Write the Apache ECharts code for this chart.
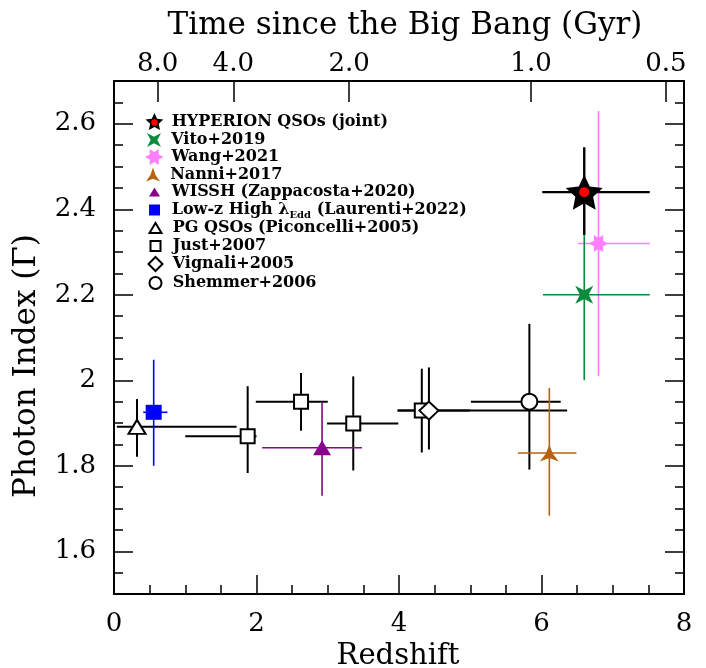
<!DOCTYPE html>
<html>
<head>
<meta charset="utf-8">
<script src="https://cdn.jsdelivr.net/npm/echarts@6/dist/echarts.min.js"></script>
<style>
  html, body { margin: 0; padding: 0; background: #fff; }
  #chart { width: 706px; height: 668px; }
</style>
</head>
<body>
<div id="chart"></div>
<script>
const FONT = 'DejaVu Serif'

// each row: [redshift, z low, z high, photon index, gamma low, gamma high]
const hyperionQSOs = [[6.60, 6.01, 7.52, 2.440, 2.340, 2.545]]
const vito2019 = [[6.60, 6.02, 7.52, 2.200, 2.000, 2.400]]
const wang2021 = [[6.80, 6.51, 7.52, 2.320, 2.010, 2.630]]
const nanni2017 = [[6.11, 5.67, 6.49, 1.830, 1.683, 1.982]]
const wissh2020 = [[2.92, 2.08, 3.48, 1.842, 1.730, 1.950]]
const lowzHighEdd = [[0.557, 0.41, 0.75, 1.925, 1.800, 2.048]]
const pgQSOs = [[0.323, 0.04, 1.72, 1.891, 1.821, 1.956]]
const just2007 = [
  [1.876, 1.00, 2.00, 1.869, 1.783, 1.986],
  [2.625, 1.99, 3.00, 1.950, 1.882, 2.017],
  [3.358, 2.99, 3.99, 1.899, 1.789, 2.009],
  [4.320, 3.98, 5.00, 1.929, 1.831, 2.027]
]
const vignali2005 = [[4.42, 3.98, 6.36, 1.929, 1.838, 2.030]]
const shemmer2006 = [[5.83, 5.01, 6.27, 1.950, 1.791, 2.132]]

// axis ticks
const timeTickZ = [0.613, 1.674, 3.30, 5.853, 7.747]
const timeTickLabels = ['8.0', '4.0', '2.0', '1.0', '0.5']

// marker shapes
const STAR5 = 'path://M50 0L64.1 30.6L97.6 34.5L72.8 57.4L79.4 90.5L50 74L20.6 90.5L27.2 57.4L2.4 34.5L35.9 30.6Z'
const STAR4 = 'path://M0 0L50 26L100 0L74 50L100 100L50 74L0 100L26 50Z'
const STAR6 = 'path://M100 50L73.8 63.8L75 93.3L50 77.5L25 93.3L26.2 63.8L0 50L26.2 36.3L25 6.7L50 22.5L75 6.7L73.8 36.3Z'
const TRIPOD = 'path://M50 0L68 54L100 100L50 80L0 100L32 54Z'

// drawn from back to front
const sets = [
  { name: 'Just+2007', data: just2007, symbol: 'rect', size: 14, fill: '#fff', stroke: '#000', err: '#000', ew: 2 },
  { name: 'PG QSOs (Piconcelli+2005)', data: pgQSOs, symbol: 'triangle', size: [17, 14], fill: '#fff', stroke: '#000', err: '#000', ew: 2 },
  { name: 'Vignali+2005', data: vignali2005, symbol: 'diamond', size: [19, 18], fill: '#fff', stroke: '#000', err: '#000', ew: 2 },
  { name: 'Shemmer+2006', data: shemmer2006, symbol: 'circle', size: 16, fill: '#fff', stroke: '#000', err: '#000', ew: 2 },
  { name: 'Low-z High λEdd (Laurenti+2022)', data: lowzHighEdd, symbol: 'rect', size: [16, 15], fill: '#0000ff', err: '#0000ff', ew: 1.6 },
  { name: 'WISSH (Zappacosta+2020)', data: wissh2020, symbol: 'triangle', size: [18, 15], fill: '#8b008b', err: '#8b008b', ew: 1.6 },
  { name: 'Nanni+2017', data: nanni2017, symbol: TRIPOD, size: [19, 17], fill: '#b8620e', err: '#b8620e', ew: 1.6 },
  { name: 'Wang+2021', data: wang2021, symbol: STAR6, size: [19, 17], fill: '#ff7fff', err: '#ff7fff', ew: 1.6 },
  { name: 'Vito+2019', data: vito2019, symbol: STAR4, size: 18, fill: '#0a8a3c', err: '#0a8a3c', ew: 1.6 },
  { name: 'HYPERION QSOs (joint)', data: hyperionQSOs, symbol: STAR5, size: [37, 35], fill: '#000', err: '#000', ew: 2.4 }
]

function errorBars(color, width) {
  return function (params, api) {
    const z = api.value(0)
    const g = api.value(3)
    const l = api.coord([api.value(1), g])
    const r = api.coord([api.value(2), g])
    const t = api.coord([z, api.value(5)])
    const b = api.coord([z, api.value(4)])
    const style = { stroke: color, lineWidth: width }
    return {
      type: 'group',
      children: [
        { type: 'line', shape: { x1: l[0], y1: l[1], x2: r[0], y2: r[1] }, style },
        { type: 'line', shape: { x1: t[0], y1: t[1], x2: b[0], y2: b[1] }, style }
      ]
    }
  }
}

const series = []
sets.forEach((s, i) => {
  series.push({
    name: s.name + ' err',
    type: 'custom',
    renderItem: errorBars(s.err, s.ew),
    encode: { x: 0, y: 3 },
    data: s.data,
    z: 2 + i * 0.01,
    silent: true
  })
})
sets.forEach((s, i) => {
  series.push({
    name: s.name,
    type: 'scatter',
    symbol: s.symbol,
    symbolSize: s.size,
    symbolKeepAspect: false,
    data: s.data.map(d => [d[0], d[3]]),
    itemStyle: {
      color: s.fill,
      borderColor: s.stroke || s.fill,
      borderWidth: s.stroke ? 2 : 0,
      opacity: 1
    },
    z: 4 + i * 0.01
  })
})
// red centre of the HYPERION star
series.push({
  name: 'HYPERION centre',
  type: 'scatter',
  symbol: 'circle',
  symbolSize: 10,
  data: hyperionQSOs.map(d => [d[0], d[3]]),
  itemStyle: { color: '#ff0000', opacity: 1 },
  z: 6
})

// legend rows, top to bottom
const legendRows = [
  { name: 'HYPERION QSOs (joint)', w: 18, h: 17 },
  { name: 'Vito+2019', w: 15, h: 14 },
  { name: 'Wang+2021', w: 19, h: 16 },
  { name: 'Nanni+2017', w: 17, h: 14 },
  { name: 'WISSH (Zappacosta+2020)', w: 11, h: 9 },
  { name: 'Low-z High λEdd (Laurenti+2022)', w: 11, h: 11, rich: true },
  { name: 'PG QSOs (Piconcelli+2005)', w: 12, h: 10 },
  { name: 'Just+2007', w: 10, h: 10 },
  { name: 'Vignali+2005', w: 14, h: 14 },
  { name: 'Shemmer+2006', w: 12, h: 12 }
]
const rowY = [121.5, 140, 157, 174.5, 192, 210, 228, 246, 264, 283]
const iconCx = 154.5
const textX = 171.7
const legendFont = 16

const legends = legendRows.map((row, i) => {
  const lh = row.rich ? 20 : 17
  const lg = {
    data: [row.name],
    orient: 'vertical',
    left: iconCx - row.w / 2,
    top: rowY[i] - Math.max(row.h, lh) / 2,
    itemWidth: row.w,
    itemHeight: row.h,
    padding: 0,
    selectedMode: false,
    textStyle: {
      fontFamily: FONT,
      fontSize: legendFont,
      fontWeight: 'bold',
      color: '#000',
      lineHeight: lh,
      padding: [0, 0, 0, textX - (iconCx + row.w / 2 + 5)]
    }
  }
  if (row.rich) {
    lg.formatter = () => '{t|Low-z High λ}{sub|Edd}{t| (Laurenti+2022)}'
    lg.textStyle.rich = {
      t: { fontFamily: FONT, fontSize: legendFont, fontWeight: 'bold', color: '#000', lineHeight: 20 },
      sub: { fontFamily: FONT, fontSize: 10, fontWeight: 'bold', color: '#000', lineHeight: 8, verticalAlign: 'bottom' }
    }
  }
  return lg
})

const tickLine = { color: '#000', width: 1.5 }
const frameLine = { show: true, onZero: false, lineStyle: { color: '#000', width: 2 } }
const labelStyle = { fontFamily: FONT, fontSize: 26, color: '#000' }
const noLine = { show: false }
const noSplit = { show: false }

const chart = echarts.init(document.getElementById('chart'))
chart.setOption({
  backgroundColor: '#fff',
  animation: false,
  grid: [
    { left: 114, right: 22, top: 81, bottom: 74 },
    // spans 1.6 .. 2.6 of the main grid, carries the labelled ticks
    { left: 114, right: 22, top: 123.7, bottom: 116.3 }
  ],
  legend: legends,
  xAxis: [
    {
      type: 'value', gridIndex: 0, position: 'bottom', min: 0, max: 8, interval: 2,
      axisLine: frameLine,
      axisTick: { inside: true, length: 19, lineStyle: tickLine },
      minorTick: { show: true, splitNumber: 4, length: 9, lineStyle: tickLine },
      axisLabel: { show: false },
      splitLine: noSplit
    },
    {
      type: 'value', gridIndex: 0, position: 'bottom', min: 0, max: 8, interval: 2,
      axisLine: noLine,
      axisTick: { show: false },
      axisLabel: { ...labelStyle, margin: 17 },
      splitLine: noSplit
    },
    {
      type: 'value', gridIndex: 0, position: 'top', min: 0, max: 8,
      axisLine: frameLine,
      axisTick: { inside: true, length: 21, lineStyle: tickLine, customValues: timeTickZ },
      axisLabel: { show: false },
      splitLine: noSplit
    },
    {
      type: 'value', gridIndex: 0, position: 'top', min: 0, max: 8,
      axisLine: noLine,
      axisTick: { show: false },
      axisLabel: {
        ...labelStyle, margin: 4, customValues: timeTickZ,
        formatter: v => timeTickLabels[timeTickZ.indexOf(v)]
      },
      splitLine: noSplit
    },
    { type: 'value', gridIndex: 1, min: 0, max: 8, show: false }
  ],
  yAxis: [
    {
      type: 'value', gridIndex: 0, position: 'left', min: 1.5, max: 2.7, interval: 0.05,
      axisLine: frameLine,
      axisTick: { inside: true, length: 9, lineStyle: tickLine },
      axisLabel: { show: false },
      splitLine: noSplit
    },
    {
      type: 'value', gridIndex: 0, position: 'right', min: 1.5, max: 2.7, interval: 0.05,
      axisLine: frameLine,
      axisTick: { inside: true, length: 9, lineStyle: tickLine },
      axisLabel: { show: false },
      splitLine: noSplit
    },
    {
      type: 'value', gridIndex: 1, position: 'left', min: 1.6, max: 2.6, interval: 0.2,
      axisLine: noLine,
      axisTick: { inside: true, length: 19, lineStyle: tickLine },
      axisLabel: { show: false },
      splitLine: noSplit
    },
    {
      type: 'value', gridIndex: 1, position: 'left', min: 1.6, max: 2.6, interval: 0.2,
      axisLine: noLine,
      axisTick: { show: false },
      axisLabel: { ...labelStyle, margin: 18 },
      splitLine: noSplit
    },
    {
      type: 'value', gridIndex: 1, position: 'right', min: 1.6, max: 2.6, interval: 0.2,
      axisLine: noLine,
      axisTick: { inside: true, length: 19, lineStyle: tickLine },
      axisLabel: { show: false },
      splitLine: noSplit
    }
  ],
  graphic: [
    {
      type: 'text', x: 405, y: 26, silent: true,
      style: { text: 'Time since the Big Bang (Gyr)', fill: '#000', font: '31px "DejaVu Serif"', align: 'center', verticalAlign: 'middle' }
    },
    {
      type: 'text', x: 398, y: 656, silent: true,
      style: { text: 'Redshift', fill: '#000', font: '29px "DejaVu Serif"', align: 'center', verticalAlign: 'middle' }
    },
    {
      type: 'text', x: 27, y: 366, rotation: Math.PI / 2, silent: true,
      style: { text: 'Photon Index (Γ)', fill: '#000', font: '31px "DejaVu Serif"', align: 'center', verticalAlign: 'middle' }
    },
    {
      type: 'circle', silent: true, z: 100,
      shape: { cx: iconCx, cy: rowY[0] + 1, r: 3.2 },
      style: { fill: '#ff0000' }
    }
  ],
  series
})
</script>
</body>
</html>
